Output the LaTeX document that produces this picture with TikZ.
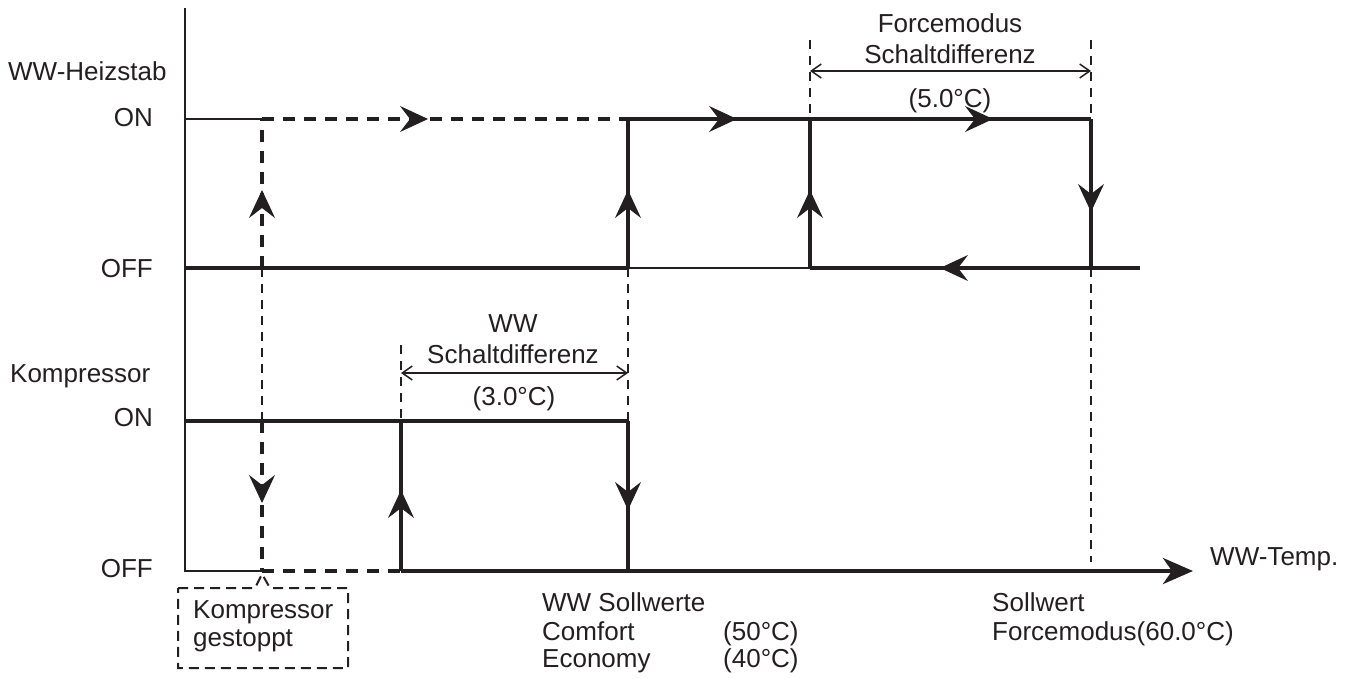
\documentclass[tikz,border=0pt]{standalone}
\usepackage{fontspec}
\setmainfont{Liberation Sans}
\usetikzlibrary{arrows.meta,decorations.markings}
\definecolor{ink}{HTML}{231F20}
\tikzset{
  lbl/.style={font=\fontsize{26}{30}\selectfont, text=ink, inner sep=0pt},
  thinline/.style={draw=ink, line width=1.5pt},
  thickline/.style={draw=ink, line width=4pt},
  thickdash/.style={draw=ink, line width=4pt, dash pattern=on 12pt off 9pt},
  guide/.style={draw=ink, line width=1.4pt, dash pattern=on 9pt off 7pt},
  boxdash/.style={draw=ink, line width=2pt, dash pattern=on 10pt off 6pt},
  dimline/.style={draw=ink, line width=1.5pt, {Straight Barb[length=10pt,width=14pt]}-{Straight Barb[length=10pt,width=14pt]}},
  midarr/.style={postaction={decorate, solid, decoration={markings,
      mark=at position #1 with {\arrow[ink, line width=1pt]{Stealth[length=28pt,width=26pt,inset=10pt]}}}}},
}
\begin{document}
\begin{tikzpicture}[x=1pt,y=-1pt]
\useasboundingbox (0,0) rectangle (1358,678);
% coordinates
\coordinate (top) at (185,8);
\coordinate (o) at (185,571);
\coordinate (hon0) at (185,119);
\coordinate (hon1) at (262,119);
\coordinate (hon3) at (628,119);
\coordinate (hon4) at (810,119);
\coordinate (hon5) at (1091,119);
\coordinate (hoff0) at (185,268);
\coordinate (hoff1) at (262,268);
\coordinate (hoff3) at (628,268);
\coordinate (hoff4) at (810,268);
\coordinate (hoff5) at (1091,268);
\coordinate (hoff6) at (1140,268);
\coordinate (kon0) at (185,421);
\coordinate (kon1) at (262,421);
\coordinate (kon2) at (401,421);
\coordinate (kon3) at (628,421);
\coordinate (koff1) at (262,571);
\coordinate (koff2) at (401,571);
\coordinate (koff3) at (628,571);
\coordinate (tip) at (1193,571);
\coordinate (g2) at (401,345);
\coordinate (g4) at (810,40);
\coordinate (g5) at (1091,40);
\coordinate (g6) at (1091,562);
\coordinate (wl) at (401,373);
\coordinate (wr) at (628,373);
\coordinate (fl) at (810,71);
\coordinate (fr) at (1091,71);
\coordinate (b1) at (178,588);
\coordinate (b2) at (255,588);
\coordinate (b3) at (262,574);
\coordinate (b4) at (270,588);
\coordinate (b5) at (348,588);
\coordinate (b6) at (348,668);
\coordinate (b7) at (178,668);

% guides (thin dashed)
\path[guide] (hoff1) -- (kon1);
\path[guide] (g2) -- (kon2);
\path[guide] (hoff3) -- (kon3);
\path[guide] (g4) -- (hon4);
\path[guide] (g5) -- (hon5);
\path[guide] (hoff5) -- (g6);

% axes and thin segments
\path[thinline] (top) -- (o) -- (koff1);
\path[thinline] (hon0) -- (hon1);
\path[thinline] (hoff3) -- (hoff4);

% WW-Heizstab
\path[thickdash, midarr=78pt] (hoff1) -- (hon1);
\path[thickdash, midarr=166pt] (hon1) -- (hon3);
\path[thickline] (hoff0) -- (hoff3);
\path[thickline, midarr=78pt] (hoff3) -- (hon3);
\path[thickline, midarr=109pt, midarr=365pt] (hon3) -- (hon5);
\path[thickline, midarr=93pt] (hon5) -- (hoff5);
\path[thickline, midarr=200pt] (hoff6) -- (hoff4);
\path[thickline, midarr=78pt] (hoff4) -- (hon4);

% Kompressor
\path[thickline] (kon0) -- (kon3);
\path[thickline, midarr=89pt] (kon3) -- (koff3);
\path[thickline, midarr=81pt] (koff2) -- (kon2);
\path[thickdash, midarr=82pt] (kon1) -- (koff1);
\path[thickdash] (koff1) -- (koff2);
\path[thickline, -{Stealth[length=30pt,width=26pt,inset=9pt]}] (koff2) -- (tip);

% dimension lines
\path[dimline] (wl) -- (wr);
\path[dimline] (fl) -- (fr);

% box
\path[boxdash] (b1) -- (b2) -- (b3) -- (b4) -- (b5) -- (b6) -- (b7) -- cycle;

% labels
\node[lbl, anchor=base west] (lh) at (8,80) {WW-Heizstab};
\node[lbl, anchor=base east] (lhon) at (153,126) {ON};
\node[lbl, anchor=base east] (lhoff) at (153,277) {OFF};
\node[lbl, anchor=base west] (lk) at (10,382) {Kompressor};
\node[lbl, anchor=base east] (lkon) at (153,426) {ON};
\node[lbl, anchor=base east] (lkoff) at (153,577) {OFF};

\node[lbl, anchor=base] (w1) at (513,332) {WW};
\node[lbl, anchor=base] (w2) at (513,363) {Schaltdifferenz};
\node[lbl, anchor=base] (w3) at (514,405) {(3.0°C)};

\node[lbl, anchor=base] (f1) at (950,32) {Forcemodus};
\node[lbl, anchor=base] (f2) at (950,63) {Schaltdifferenz};
\node[lbl, anchor=base] (f3) at (950,107) {(5.0°C)};

\node[lbl, anchor=base west] (k1) at (193,618) {Kompressor};
\node[lbl, anchor=base west] (k2) at (193,646) {gestoppt};

\node[lbl, anchor=base west] (s1) at (542,611) {WW Sollwerte};
\node[lbl, anchor=base west] (s2) at (542,640) {Comfort};
\node[lbl, anchor=base west] (s3) at (542,667) {Economy};
\node[lbl, anchor=base west] (s4) at (723,640) {(50°C)};
\node[lbl, anchor=base west] (s5) at (723,667) {(40°C)};

\node[lbl, anchor=base west] (p1) at (992,611) {Sollwert};
\node[lbl, anchor=base west] (p2) at (992,640) {Forcemodus(60.0°C)};

\node[lbl, anchor=base west] (t1) at (1210,565) {WW-Temp.};
\end{tikzpicture}
\end{document}
